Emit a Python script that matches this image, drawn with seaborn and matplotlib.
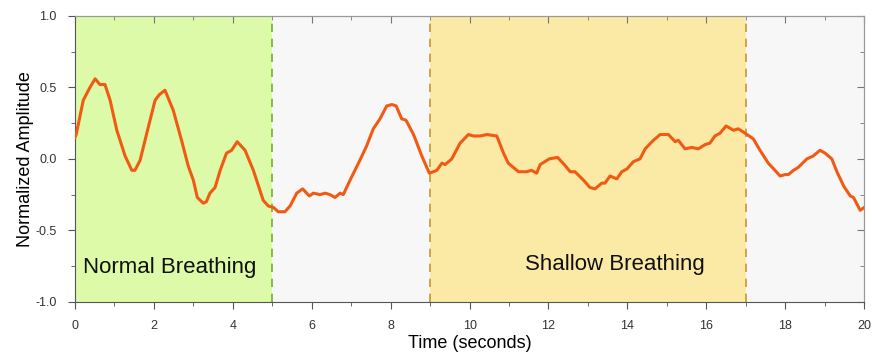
import numpy as np
import pandas as pd
import matplotlib
matplotlib.use("Agg")
import matplotlib.pyplot as plt
from matplotlib.ticker import MultipleLocator, FormatStrFormatter
import seaborn as sns

# breathing signal (time in s, normalized amplitude)
time_s = [0.0, 0.03, 0.21, 0.38, 0.51, 0.63, 0.76, 0.89, 1.06, 1.27, 1.44, 1.52, 1.65,
          1.82, 2.03, 2.14, 2.28, 2.49, 2.70, 2.87, 3.00, 3.10, 3.25, 3.33, 3.42, 3.55,
          3.68, 3.84, 3.97, 4.11, 4.31, 4.52, 4.65, 4.77, 4.90, 5.03, 5.15, 5.32, 5.45,
          5.62, 5.77, 5.94, 6.04, 6.21, 6.34, 6.46, 6.59, 6.72, 6.80, 6.97, 7.22, 7.39,
          7.56, 7.73, 7.90, 8.03, 8.14, 8.28, 8.39, 8.58, 8.79, 8.98, 9.08, 9.17, 9.30,
          9.38, 9.55, 9.76, 9.97, 10.10, 10.27, 10.44, 10.69, 10.86, 10.98, 11.24, 11.45,
          11.57, 11.70, 11.79, 12.02, 12.23, 12.40, 12.55, 12.67, 12.89, 13.05, 13.18,
          13.35, 13.43, 13.56, 13.73, 13.86, 13.99, 14.15, 14.32, 14.45, 14.66, 14.83,
          15.04, 15.21, 15.29, 15.46, 15.63, 15.80, 15.97, 16.09, 16.22, 16.35, 16.50,
          16.69, 16.81, 16.98, 17.19, 17.36, 17.57, 17.74, 17.87, 18.00, 18.08, 18.21,
          18.33, 18.55, 18.71, 18.88, 19.01, 19.18, 19.31, 19.48, 19.65, 19.73, 19.90, 20.0]
amplitude = [0.15, 0.17, 0.41, 0.50, 0.56, 0.52, 0.52, 0.41, 0.20, 0.02, -0.08, -0.08, -0.01,
             0.18, 0.41, 0.45, 0.48, 0.34, 0.13, -0.05, -0.15, -0.27, -0.31, -0.30, -0.24, -0.20,
             -0.08, 0.04, 0.06, 0.12, 0.06, -0.08, -0.19, -0.29, -0.33, -0.34, -0.37, -0.37, -0.33,
             -0.24, -0.21, -0.26, -0.24, -0.25, -0.24, -0.25, -0.27, -0.24, -0.25, -0.15, -0.01, 0.09,
             0.21, 0.28, 0.37, 0.38, 0.37, 0.28, 0.27, 0.17, 0.02, -0.10, -0.09, -0.08, -0.03,
             -0.04, 0.00, 0.11, 0.17, 0.16, 0.16, 0.17, 0.16, 0.04, -0.03, -0.09, -0.09,
             -0.08, -0.10, -0.04, 0.00, 0.01, -0.04, -0.09, -0.09, -0.15, -0.20, -0.21,
             -0.17, -0.17, -0.12, -0.14, -0.09, -0.07, -0.02, 0.00, 0.07, 0.13, 0.17,
             0.17, 0.12, 0.13, 0.07, 0.08, 0.07, 0.10, 0.11, 0.16, 0.18, 0.23,
             0.20, 0.21, 0.18, 0.14, 0.06, -0.03, -0.08, -0.12, -0.11, -0.11, -0.08,
             -0.06, 0.00, 0.02, 0.06, 0.04, 0.00, -0.09, -0.19, -0.26, -0.27, -0.36, -0.34]

# shaded phases
normal_span = (0, 5)
shallow_span = (9, 17)

df = pd.DataFrame({"time": time_s, "amp": amplitude})

plt.rcParams['font.family'] = ['Liberation Sans', 'DejaVu Sans']

fig = plt.figure(figsize=(8.72, 3.53), dpi=100)
ax = fig.add_axes([0.086, 0.145, 0.905, 0.81])
ax.set_facecolor("#f7f7f7")

ax.axvspan(*normal_span, color="#dcfaa8", lw=0, zorder=0)
ax.axvspan(*shallow_span, color="#fbeaa6", lw=0, zorder=0)
ax.axvline(normal_span[1], color="#6db32a", ls=(0, (5, 4)), lw=1.2, zorder=1)
for xv in shallow_span:
    ax.axvline(xv, color="#c9972e", ls=(0, (5, 4)), lw=1.2, zorder=1)

sns.lineplot(data=df, x="time", y="amp", ax=ax, color="#f15a12", lw=2.2, zorder=3)

ax.text(0.2, -0.76, "Normal Breathing", fontsize=16, va="center", ha="left", color="#111111")
ax.text(11.4, -0.74, "Shallow Breathing", fontsize=16, va="center", ha="left", color="#111111")

ax.set_xlim(0, 20)
ax.set_ylim(-1, 1)
ax.xaxis.set_major_locator(MultipleLocator(2))
ax.xaxis.set_minor_locator(MultipleLocator(1))
ax.yaxis.set_major_locator(MultipleLocator(0.5))
ax.yaxis.set_minor_locator(MultipleLocator(0.25))
ax.yaxis.set_major_formatter(FormatStrFormatter("%.1f"))

ax.tick_params(axis="both", which="both", direction="out", colors="#555555",
               labelcolor="#333333", labelsize=9)
ax.tick_params(which="major", length=5)
ax.tick_params(which="minor", length=3)
ax.tick_params(axis="x", which="major", pad=8)
ax.tick_params(axis="y", which="major", pad=8)

# inward ticks on top and right
top = ax.secondary_xaxis("top")
top.xaxis.set_major_locator(MultipleLocator(2))
top.xaxis.set_minor_locator(MultipleLocator(1))
top.tick_params(which="both", direction="in", labeltop=False, colors="#777777")
top.tick_params(which="major", length=5)
top.tick_params(which="minor", length=3)
right = ax.secondary_yaxis("right")
right.yaxis.set_major_locator(MultipleLocator(0.5))
right.yaxis.set_minor_locator(MultipleLocator(0.25))
right.tick_params(which="both", direction="in", labelright=False, colors="#777777")
right.tick_params(which="major", length=5)
right.tick_params(which="minor", length=3)
for sec in (top, right):
    for sp in sec.spines.values():
        sp.set_color("#999999")

ax.set_xlabel("Time (seconds)", fontsize=13, labelpad=2)
ax.set_ylabel("Normalized Amplitude", fontsize=13, labelpad=1)

for side in ["left", "bottom"]:
    ax.spines[side].set_color("#555555")
for side in ["top", "right"]:
    ax.spines[side].set_color("#999999")

fig.savefig("out.png", dpi=100)
